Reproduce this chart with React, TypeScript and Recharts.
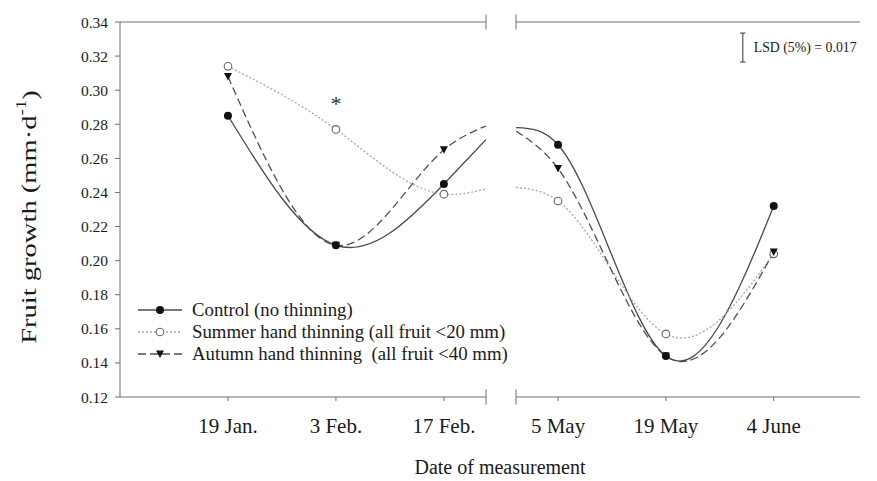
import { LineChart, Line, XAxis, YAxis, ReferenceLine, ReferenceDot, Legend, Label } from 'recharts';

const leftDates = ['19 Jan.', '3 Feb.', '17 Feb.'];
const rightDates = ['5 May', '19 May', '4 June'];

const controlLeft = [0.285, 0.209, 0.245];
const summerLeft = [0.314, 0.277, 0.239];
const autumnLeft = [0.308, 0.209, 0.265];

const controlRight = [0.268, 0.144, 0.232];
const summerRight = [0.235, 0.157, 0.204];
const autumnRight = [0.254, 0.144, 0.205];

// where the fitted curves meet the axis break
const leftBreakEnd = { control: 0.271, summer: 0.242, autumn: 0.279 };
const rightBreakStart = { control: 0.278, summer: 0.243, autumn: 0.276 };

const yTicks = [0.12, 0.14, 0.16, 0.18, 0.2, 0.22, 0.24, 0.26, 0.28, 0.3, 0.32, 0.34];
const LSD = 0.017;

const LEFT_DOMAIN: [number, number] = [-1, 2.39];
const RIGHT_DOMAIN: [number, number] = [-0.39, 2.8];
const Y_DOMAIN: [number, number] = [0.12, 0.34];

const leftData = [
  ...leftDates.map((d, i) => ({
    pos: i,
    date: d,
    control: controlLeft[i],
    summer: summerLeft[i],
    autumn: autumnLeft[i],
  })),
  { pos: LEFT_DOMAIN[1], date: '', edge: true, ...leftBreakEnd },
];

const rightData = [
  { pos: RIGHT_DOMAIN[0], date: '', edge: true, ...rightBreakStart },
  ...rightDates.map((d, i) => ({
    pos: i,
    date: d,
    control: controlRight[i],
    summer: summerRight[i],
    autumn: autumnRight[i],
  })),
];

const AXIS = '#707070';
const TEXT = '#1a1a1a';
const FONT = '"Liberation Serif", "Times New Roman", serif';

// natural cubic spline y(x), like the smoothed curves in the original plot
function splineX(context: any) {
  let xs: number[] = [];
  let ys: number[] = [];
  return {
    areaStart() {},
    areaEnd() {},
    lineStart() {
      xs = [];
      ys = [];
    },
    point(x: number, y: number) {
      xs.push(+x);
      ys.push(+y);
    },
    lineEnd() {
      const n = xs.length;
      if (!n) return;
      context.moveTo(xs[0], ys[0]);
      if (n === 1) return;
      if (n === 2) {
        context.lineTo(xs[1], ys[1]);
        return;
      }
      const h: number[] = [];
      for (let i = 0; i < n - 1; i++) h[i] = xs[i + 1] - xs[i];
      const a: number[] = [], b: number[] = [], c: number[] = [], d: number[] = [];
      const M = new Array(n).fill(0);
      for (let i = 1; i < n - 1; i++) {
        a[i] = h[i - 1];
        b[i] = 2 * (h[i - 1] + h[i]);
        c[i] = h[i];
        d[i] = 6 * ((ys[i + 1] - ys[i]) / h[i] - (ys[i] - ys[i - 1]) / h[i - 1]);
      }
      for (let i = 2; i < n - 1; i++) {
        const w = a[i] / b[i - 1];
        b[i] -= w * c[i - 1];
        d[i] -= w * d[i - 1];
      }
      M[n - 2] = d[n - 2] / b[n - 2];
      for (let i = n - 3; i >= 1; i--) M[i] = (d[i] - c[i] * M[i + 1]) / b[i];
      for (let i = 0; i < n - 1; i++) {
        const hi = h[i];
        const s = (ys[i + 1] - ys[i]) / hi;
        const m0 = s - (hi * (2 * M[i] + M[i + 1])) / 6;
        const m1 = s + (hi * (M[i] + 2 * M[i + 1])) / 6;
        context.bezierCurveTo(
          xs[i] + hi / 3,
          ys[i] + (m0 * hi) / 3,
          xs[i + 1] - hi / 3,
          ys[i + 1] - (m1 * hi) / 3,
          xs[i + 1],
          ys[i + 1]
        );
      }
    },
  };
}

const controlDot = (p: any) =>
  p.payload.edge ? <g key={p.key} /> : <circle key={p.key} cx={p.cx} cy={p.cy} r={4} fill="#111" />;

const summerDot = (p: any) =>
  p.payload.edge ? (
    <g key={p.key} />
  ) : (
    <circle key={p.key} cx={p.cx} cy={p.cy} r={3.8} fill="#fff" stroke="#666" strokeWidth={1.1} />
  );

const autumnDot = (p: any) =>
  p.payload.edge ? (
    <g key={p.key} />
  ) : (
    <polygon
      key={p.key}
      points={`${p.cx - 4},${p.cy - 3.5} ${p.cx + 4},${p.cy - 3.5} ${p.cx},${p.cy + 4}`}
      fill="#111"
    />
  );

const series = [
  { key: 'control', name: 'Control (no thinning)', stroke: '#4a4a4a', dash: undefined, dot: controlDot },
  { key: 'summer', name: 'Summer hand thinning (all fruit <20 mm)', stroke: '#a8a8a8', dash: '2 2', dot: summerDot },
  { key: 'autumn', name: 'Autumn hand thinning  (all fruit <40 mm)', stroke: '#505050', dash: '8 4', dot: autumnDot },
];

function renderLines() {
  return series.map((s) => (
    <Line
      key={s.key}
      type={splineX as any}
      dataKey={s.key}
      stroke={s.stroke}
      strokeWidth={1.3}
      strokeDasharray={s.dash}
      dot={s.dot}
      activeDot={false}
      isAnimationActive={false}
    />
  ));
}

function LegendBox() {
  return (
    <div style={{ fontFamily: FONT, fontSize: 18.8, color: TEXT, whiteSpace: 'pre' }}>
      {series.map((s) => (
        <div key={s.key} style={{ display: 'flex', alignItems: 'center', height: 22 }}>
          <svg width={54} height={22}>
            <line x1={8} x2={52} y1={11} y2={11} stroke={s.stroke} strokeWidth={1.3} strokeDasharray={s.dash} />
            {s.dot({ cx: 30, cy: 11, payload: {}, key: 'm' })}
          </svg>
          <span style={{ marginLeft: 8 }}>{s.name}</span>
        </div>
      ))}
    </div>
  );
}

function breakMarks(xVal: number) {
  const h = 0.0045;
  return [Y_DOMAIN[0], Y_DOMAIN[1]].map((y) => (
    <ReferenceLine
      key={`brk-${xVal}-${y}`}
      segment={[
        { x: xVal, y: y - h },
        { x: xVal, y: y + h },
      ]}
      stroke={AXIS}
      strokeWidth={1}
      ifOverflow="visible"
    />
  ));
}

const YTitle = () => (
  <text
    x={0}
    y={0}
    transform="translate(29, 217) rotate(-90) scale(1.36, 1)"
    textAnchor="middle"
    dominantBaseline="central"
    fontFamily={FONT}
    fontSize={21}
    fill={TEXT}
  >
    Fruit growth (mm·d
    <tspan dy={-8} fontSize={14}>
      -1
    </tspan>
    <tspan dy={8}>)</tspan>
  </text>
);

export default function App() {
  const lsdX = 1.713;
  const lsdMid = 0.325;
  return (
    <div style={{ position: 'absolute', left: 0, top: 0, width: 877, height: 481, background: '#fff', fontFamily: FONT }}>
      <div style={{ position: 'absolute', left: 0, top: 0 }}>
        <LineChart width={500} height={481} data={leftData} margin={{ top: 22, right: 14, bottom: 54, left: 0 }}>
          <XAxis
            dataKey="pos"
            type="number"
            domain={LEFT_DOMAIN}
            ticks={[0, 1, 2]}
            tickFormatter={(v: number) => leftDates[v]}
            height={30}
            stroke={AXIS}
            tickSize={4}
            tickMargin={17}
            tick={{ fill: TEXT, fontSize: 21, fontFamily: FONT }}
            allowDataOverflow
          />
          <YAxis
            type="number"
            domain={Y_DOMAIN}
            ticks={yTicks}
            tickFormatter={(v: number) => v.toFixed(2)}
            width={120}
            stroke={AXIS}
            tickSize={5}
            tickMargin={7}
            tick={{ fill: TEXT, fontSize: 15.5, fontFamily: FONT }}
          >
            <Label content={<YTitle />} />
          </YAxis>
          <ReferenceLine y={Y_DOMAIN[1]} stroke={AXIS} strokeWidth={1} />
          {breakMarks(LEFT_DOMAIN[1])}
          {renderLines()}
          <ReferenceDot
            x={1}
            y={summerLeft[1]}
            r={0}
            label={{ value: '*', position: 'top', offset: 18, fontSize: 22, fill: '#333', fontFamily: FONT }}
          />
          <Legend
            layout="vertical"
            align="center"
            verticalAlign="middle"
            content={() => <LegendBox />}
            wrapperStyle={{ left: 130, top: 299, width: 400 }}
          />
        </LineChart>
      </div>
      <div style={{ position: 'absolute', left: 500, top: 0 }}>
        <LineChart width={377} height={481} data={rightData} margin={{ top: 22, right: 17, bottom: 54, left: 16 }}>
          <XAxis
            dataKey="pos"
            type="number"
            domain={RIGHT_DOMAIN}
            ticks={[0, 1, 2]}
            tickFormatter={(v: number) => rightDates[v]}
            height={30}
            stroke={AXIS}
            tickSize={4}
            tickMargin={17}
            tick={{ fill: TEXT, fontSize: 21, fontFamily: FONT }}
            allowDataOverflow
          />
          <YAxis type="number" domain={Y_DOMAIN} hide />
          <ReferenceLine y={Y_DOMAIN[1]} stroke={AXIS} strokeWidth={1} />
          {breakMarks(RIGHT_DOMAIN[0])}
          {renderLines()}
          <ReferenceLine
            segment={[
              { x: lsdX, y: lsdMid - LSD / 2 },
              { x: lsdX, y: lsdMid + LSD / 2 },
            ]}
            stroke="#555"
            strokeWidth={1.2}
          />
          <ReferenceLine
            segment={[
              { x: lsdX - 0.025, y: lsdMid + LSD / 2 },
              { x: lsdX + 0.025, y: lsdMid + LSD / 2 },
            ]}
            stroke="#555"
            strokeWidth={1.2}
          />
          <ReferenceLine
            segment={[
              { x: lsdX - 0.025, y: lsdMid - LSD / 2 },
              { x: lsdX + 0.025, y: lsdMid - LSD / 2 },
            ]}
            stroke="#555"
            strokeWidth={1.2}
          />
          <ReferenceDot
            x={lsdX}
            y={lsdMid}
            r={0}
            label={{ value: `LSD (5%) = ${LSD.toFixed(3)}`, position: 'right', offset: 11, fontSize: 13.8, fill: TEXT, fontFamily: FONT }}
          />
        </LineChart>
      </div>
      <div
        style={{
          position: 'absolute',
          left: 350,
          width: 300,
          top: 456,
          textAlign: 'center',
          fontSize: 20,
          color: TEXT,
          fontFamily: FONT,
        }}
      >
        Date of measurement
      </div>
    </div>
  );
}
